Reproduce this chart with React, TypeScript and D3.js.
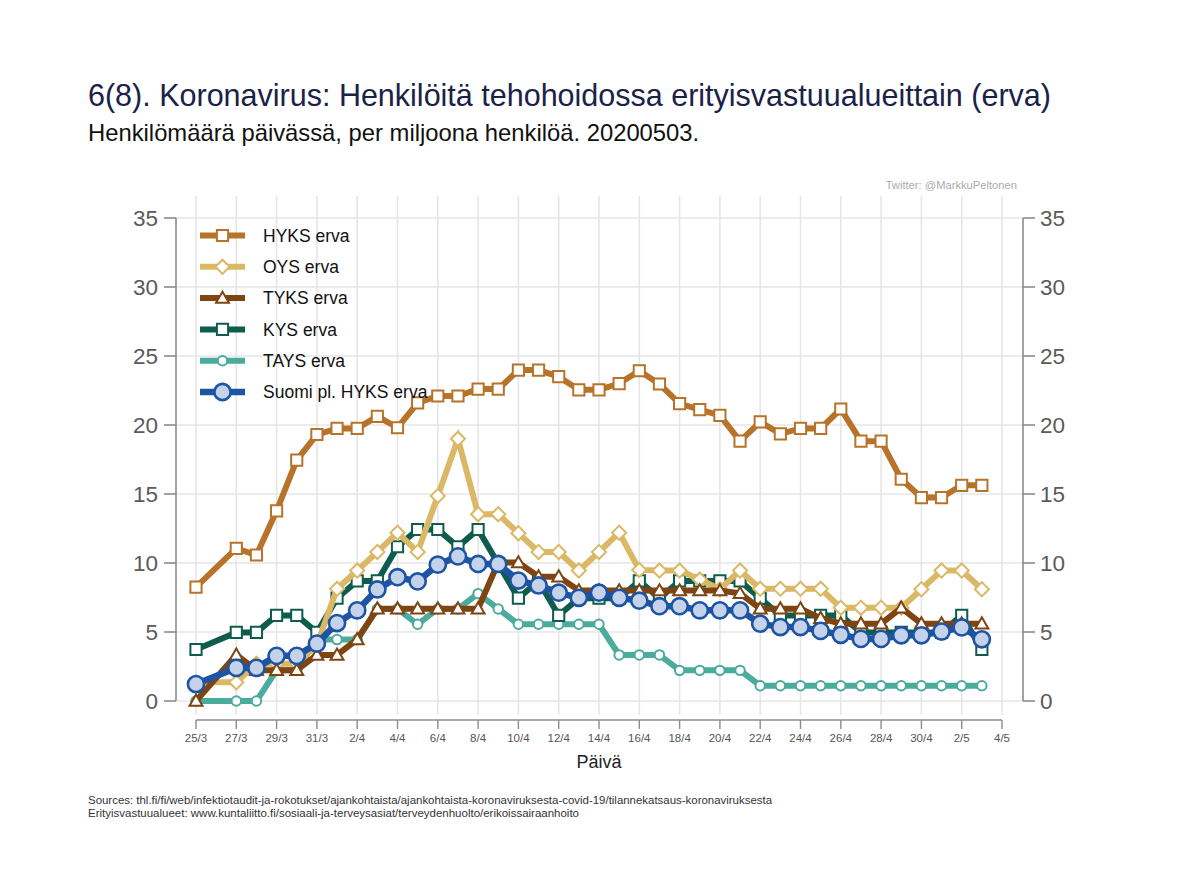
import React from "react";
import * as d3 from "d3";

const dates: string[] = [
  "2020-03-25", "2020-03-27", "2020-03-28", "2020-03-29", "2020-03-30", "2020-03-31",
  "2020-04-01", "2020-04-02", "2020-04-03", "2020-04-04", "2020-04-05", "2020-04-06",
  "2020-04-07", "2020-04-08", "2020-04-09", "2020-04-10", "2020-04-11", "2020-04-12",
  "2020-04-13", "2020-04-14", "2020-04-15", "2020-04-16", "2020-04-17", "2020-04-18",
  "2020-04-19", "2020-04-20", "2020-04-21", "2020-04-22", "2020-04-23", "2020-04-24",
  "2020-04-25", "2020-04-26", "2020-04-27", "2020-04-28", "2020-04-29", "2020-04-30",
  "2020-05-01", "2020-05-02", "2020-05-03",
];

const hyks: number[] = [8.25, 11.06, 10.58, 13.78, 17.46, 19.31, 19.75, 19.75, 20.63, 19.8, 21.6, 22.1, 22.1, 22.6, 22.6, 23.98, 23.98, 23.5, 22.55, 22.55, 23.0, 23.93, 22.97, 21.55, 21.12, 20.7, 18.83, 20.22, 19.36, 19.75, 19.75, 21.16, 18.83, 18.83, 16.07, 14.74, 14.74, 15.63, 15.63];
const oys: number[] = [1.35, 1.35, 2.7, 2.7, 2.7, 4.05, 8.13, 9.45, 10.8, 12.2, 10.8, 14.86, 19.0, 13.54, 13.54, 12.16, 10.8, 10.8, 9.45, 10.8, 12.2, 9.5, 9.45, 9.45, 8.8, 8.1, 9.45, 8.13, 8.13, 8.13, 8.13, 6.76, 6.76, 6.76, 6.76, 8.1, 9.45, 9.45, 8.1];
const tyks: number[] = [0, 3.34, 2.23, 2.23, 2.23, 3.34, 3.34, 4.46, 6.69, 6.69, 6.69, 6.69, 6.69, 6.69, 10.03, 10.03, 9.0, 9.0, 8.0, 8.0, 8.0, 8.0, 8.0, 8.0, 8.0, 8.0, 7.8, 6.69, 6.69, 6.69, 6.0, 5.6, 5.6, 5.6, 6.75, 5.6, 5.6, 5.6, 5.6];
const kys: number[] = [3.73, 4.97, 4.97, 6.2, 6.2, 4.97, 7.45, 8.7, 8.7, 11.18, 12.43, 12.43, 11.18, 12.43, 9.94, 7.45, 8.7, 6.2, 7.45, 7.45, 7.45, 8.7, 7.45, 8.7, 8.7, 8.7, 8.7, 7.45, 6.2, 6.2, 6.2, 6.2, 4.97, 4.97, 4.97, 4.97, 4.97, 6.2, 3.73];
const tays: number[] = [0, 0, 0, 2.22, 2.22, 4.45, 4.45, 4.45, 6.67, 6.67, 5.56, 6.67, 6.67, 7.78, 6.67, 5.56, 5.56, 5.56, 5.56, 5.56, 3.34, 3.34, 3.34, 2.22, 2.22, 2.22, 2.22, 1.11, 1.11, 1.11, 1.11, 1.11, 1.11, 1.11, 1.11, 1.11, 1.11, 1.11, 1.11];
const suomi: number[] = [1.23, 2.4, 2.4, 3.27, 3.27, 4.16, 5.65, 6.57, 8.08, 8.97, 8.66, 9.88, 10.48, 9.93, 9.93, 8.73, 8.37, 7.85, 7.48, 7.85, 7.48, 7.27, 6.87, 6.87, 6.57, 6.57, 6.57, 5.6, 5.36, 5.36, 5.08, 4.8, 4.5, 4.5, 4.76, 4.76, 5.03, 5.33, 4.47];

const xTickLabels: string[] = ["25/3", "27/3", "29/3", "31/3", "2/4", "4/4", "6/4", "8/4", "10/4", "12/4", "14/4", "16/4", "18/4", "20/4", "22/4", "24/4", "26/4", "28/4", "30/4", "2/5", "4/5"];
const yTicks: number[] = [0, 5, 10, 15, 20, 25, 30, 35];

const seriesNames: string[] = ["HYKS erva", "OYS erva", "TYKS erva", "KYS erva", "TAYS erva", "Suomi pl. HYKS erva"];

type Marker = "square" | "diamond" | "triangle" | "circleSmall" | "circleBig";
interface Series { name: string; values: number[]; color: string; fill: string; marker: Marker; width: number; }

const series: Series[] = [
  { name: seriesNames[0], values: hyks, color: "#b8732b", fill: "#ffffff", marker: "square", width: 6 },
  { name: seriesNames[1], values: oys, color: "#dbb866", fill: "#ffffff", marker: "diamond", width: 6 },
  { name: seriesNames[2], values: tyks, color: "#7e4412", fill: "#ffffff", marker: "triangle", width: 6 },
  { name: seriesNames[3], values: kys, color: "#0e5c4d", fill: "#ffffff", marker: "square", width: 6 },
  { name: seriesNames[4], values: tays, color: "#4bab9c", fill: "#ffffff", marker: "circleSmall", width: 6 },
  { name: seriesNames[5], values: suomi, color: "#1e54a4", fill: "#c5d3ea", marker: "circleBig", width: 6.5 },
];
const drawOrder = [4, 3, 1, 2, 0, 5];

const FONT = "'Liberation Sans', Arial, Helvetica, sans-serif";
const parse = d3.utcParse("%Y-%m-%d");

function markerPath(m: Marker): string {
  switch (m) {
    case "square": return d3.symbol(d3.symbolSquare, 125)()!;
    case "diamond": return d3.symbol(d3.symbolSquare, 100)()!;
    case "triangle": return d3.symbol(d3.symbolTriangle, 72)()!;
    case "circleSmall": return d3.symbol(d3.symbolCircle, 70)()!;
    case "circleBig": return d3.symbol(d3.symbolCircle, 205)()!;
  }
}

function MarkerShape({ s, x, y }: { s: Series; x: number; y: number }) {
  const rot = s.marker === "diamond" ? 45 : 0;
  const sw = s.marker === "circleBig" ? 2.6 : 2;
  const dy = s.marker === "triangle" ? 1 : 0;
  return (
    <path
      d={markerPath(s.marker)}
      transform={`translate(${x},${y + dy}) rotate(${rot})`}
      fill={s.fill}
      stroke={s.color}
      strokeWidth={sw}
    />
  );
}

export default function App() {
  const W = 1200, H = 873;
  const start = parse("2020-03-25")!;
  const x = d3.scaleUtc()
    .domain([start, parse("2020-05-04")!])
    .range([196, 1002]);
  const y = d3.scaleLinear().domain([0, 35]).range([701, 218]);
  const plotLeft = 176, plotRight = 1023, plotTop = 196, plotBottom = 715;
  const tickDates = d3.range(0, 41, 2).map((k) => d3.utcDay.offset(start, k));
  const dts = dates.map((d) => parse(d)!);
  const line = d3.line<number>().x((_, i) => x(dts[i])).y((v) => y(v));
  const axisColor = "#8c8c8c";

  return (
    <svg width={W} height={H} style={{ position: "absolute", left: 0, top: 0, background: "#fff" }}>
      <rect x={0} y={0} width={W} height={H} fill="#ffffff" />
      {/* titles */}
      <text x={88} y={106} fontFamily={FONT} fontSize={30.5} fill="#1b2247">
        6(8). Koronavirus: Henkilöitä tehohoidossa erityisvastuualueittain (erva)
      </text>
      <text x={88} y={141} fontFamily={FONT} fontSize={23.8} fill="#111">
        Henkilömäärä päivässä, per miljoona henkilöä. 20200503.
      </text>
      <text x={1017} y={189} fontFamily={FONT} fontSize={11.2} fill="#ababab" textAnchor="end">
        Twitter: @MarkkuPeltonen
      </text>

      {/* gridlines */}
      {yTicks.map((t) => (
        <line key={"hg" + t} x1={plotLeft} x2={plotRight} y1={y(t)} y2={y(t)} stroke="#e6e6e6" strokeWidth={1.6} />
      ))}
      {tickDates.map((d, i) => (
        <line key={"vg" + i} x1={x(d)} x2={x(d)} y1={plotTop} y2={plotBottom} stroke="#e6e6e6" strokeWidth={1.6} />
      ))}

      {/* left axis */}
      <line x1={plotLeft} x2={plotLeft} y1={y(35)} y2={y(0)} stroke={axisColor} strokeWidth={1.6} />
      {yTicks.map((t) => (
        <g key={"ly" + t}>
          <line x1={plotLeft - 12} x2={plotLeft} y1={y(t)} y2={y(t)} stroke={axisColor} strokeWidth={1.6} />
          <text x={158} y={y(t)} dy="0.36em" textAnchor="end" fontFamily={FONT} fontSize={22.5} fill="#5a5a5a">{t}</text>
        </g>
      ))}
      {/* right axis */}
      <line x1={plotRight} x2={plotRight} y1={y(35)} y2={y(0)} stroke={axisColor} strokeWidth={1.6} />
      {yTicks.map((t) => (
        <g key={"ry" + t}>
          <line x1={plotRight} x2={plotRight + 12} y1={y(t)} y2={y(t)} stroke={axisColor} strokeWidth={1.6} />
          <text x={1040} y={y(t)} dy="0.36em" textAnchor="start" fontFamily={FONT} fontSize={22.5} fill="#5a5a5a">{t}</text>
        </g>
      ))}
      {/* bottom axis */}
      <line x1={x(tickDates[0])} x2={x(tickDates[tickDates.length - 1])} y1={720} y2={720} stroke={axisColor} strokeWidth={1.6} />
      {tickDates.map((d, i) => (
        <g key={"xt" + i}>
          <line x1={x(d)} x2={x(d)} y1={720} y2={729} stroke={axisColor} strokeWidth={1.4} />
          <text x={x(d)} y={742} textAnchor="middle" fontFamily={FONT} fontSize={11.5} fill="#555">{xTickLabels[i]}</text>
        </g>
      ))}
      <text x={599} y={768} textAnchor="middle" fontFamily={FONT} fontSize={18} fill="#222">Päivä</text>

      {/* series */}
      {drawOrder.map((si) => {
        const s = series[si];
        return (
          <g key={s.name}>
            <path d={line(s.values)!} fill="none" stroke={s.color} strokeWidth={s.width} strokeLinejoin="miter" />
            {s.values.map((v, i) => (
              <MarkerShape key={i} s={s} x={x(dts[i])} y={y(v)} />
            ))}
          </g>
        );
      })}

      {/* legend */}
      {series.map((s, i) => {
        const ly = 235.5 + i * 31.3;
        return (
          <g key={"lg" + i}>
            <line x1={200} x2={245} y1={ly} y2={ly} stroke={s.color} strokeWidth={s.width} />
            <MarkerShape s={s} x={222.5} y={ly} />
            <text x={263} y={ly} dy="0.36em" fontFamily={FONT} fontSize={17.5} fill="#111">{s.name}</text>
          </g>
        );
      })}

      {/* sources */}
      <text x={88} y={804} fontFamily={FONT} fontSize={11} fill="#333" textLength={684} lengthAdjust="spacingAndGlyphs">
        Sources: thl.fi/fi/web/infektiotaudit-ja-rokotukset/ajankohtaista/ajankohtaista-koronaviruksesta-covid-19/tilannekatsaus-koronaviruksesta
      </text>
      <text x={88} y={817} fontFamily={FONT} fontSize={11} fill="#333" textLength={491} lengthAdjust="spacingAndGlyphs">
        Erityisvastuualueet: www.kuntaliitto.fi/sosiaali-ja-terveysasiat/terveydenhuolto/erikoissairaanhoito
      </text>
    </svg>
  );
}
